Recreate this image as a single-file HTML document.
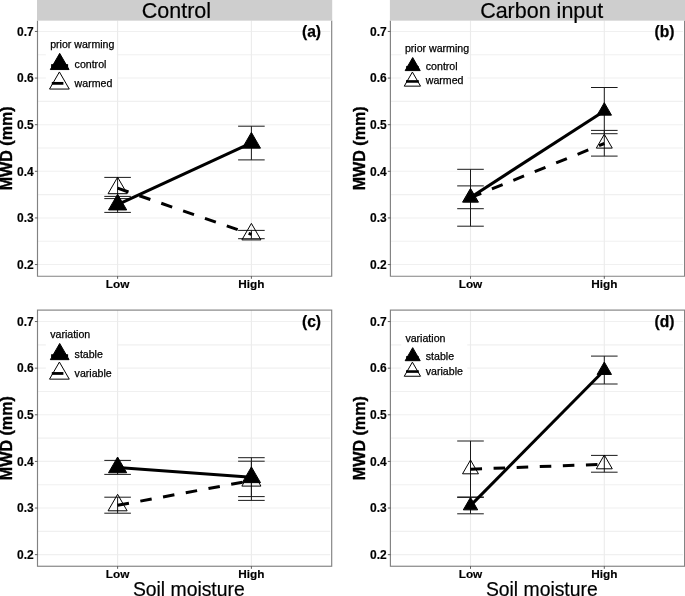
<!DOCTYPE html>
<html lang="en">
<head>
<meta charset="utf-8">
<title>MWD vs soil moisture</title>
<style>
html,body{margin:0;padding:0;background:#fff;}
body{width:685px;height:596px;overflow:hidden;font-family:"Liberation Sans", Arial, Helvetica, sans-serif;}
svg{display:block;filter:grayscale(1);}
</style>
</head>
<body>
<svg width="685" height="596" viewBox="0 0 685 596" font-family='"Liberation Sans", Arial, Helvetica, sans-serif'>
<rect width="685" height="596" fill="#fff"/>
<g id="panel-a">
<rect x="37.5" y="20" width="294.2" height="256.2" fill="#fff"/>
<line x1="37.5" x2="330.2" y1="264.55" y2="264.55" stroke="#f0f0f0" stroke-width="1.1"/>
<line x1="37.5" x2="330.2" y1="241.24" y2="241.24" stroke="#f0f0f0" stroke-width="1.1"/>
<line x1="37.5" x2="330.2" y1="217.93" y2="217.93" stroke="#f0f0f0" stroke-width="1.1"/>
<line x1="37.5" x2="330.2" y1="194.62" y2="194.62" stroke="#f0f0f0" stroke-width="1.1"/>
<line x1="37.5" x2="330.2" y1="171.31" y2="171.31" stroke="#f0f0f0" stroke-width="1.1"/>
<line x1="37.5" x2="330.2" y1="148.00" y2="148.00" stroke="#f0f0f0" stroke-width="1.1"/>
<line x1="37.5" x2="330.2" y1="124.69" y2="124.69" stroke="#f0f0f0" stroke-width="1.1"/>
<line x1="37.5" x2="330.2" y1="101.38" y2="101.38" stroke="#f0f0f0" stroke-width="1.1"/>
<line x1="37.5" x2="330.2" y1="78.07" y2="78.07" stroke="#f0f0f0" stroke-width="1.1"/>
<line x1="37.5" x2="330.2" y1="54.76" y2="54.76" stroke="#f0f0f0" stroke-width="1.1"/>
<line x1="37.5" x2="330.2" y1="31.45" y2="31.45" stroke="#f0f0f0" stroke-width="1.1"/>
<line x1="117.60" x2="117.60" y1="20.5" y2="276.2" stroke="#ebebeb" stroke-width="1.1"/>
<line x1="251.40" x2="251.40" y1="20.5" y2="276.2" stroke="#ebebeb" stroke-width="1.1"/>
<rect x="45.8" y="34.95" width="71" height="62" fill="#fff"/>
<path d="M104.30 177.40H130.90M104.30 198.60H130.90M117.60 177.40V198.60" fill="none" stroke="#1a1a1a" stroke-width="1.0"/>
<path d="M238.10 230.40H264.70M238.10 238.70H264.70M251.40 230.40V238.70" fill="none" stroke="#1a1a1a" stroke-width="1.0"/>
<path d="M104.30 196.40H130.90M104.30 212.40H130.90M117.60 196.40V212.40" fill="none" stroke="#1a1a1a" stroke-width="1.0"/>
<path d="M238.10 126.20H264.70M238.10 159.90H264.70M251.40 126.20V159.90" fill="none" stroke="#1a1a1a" stroke-width="1.0"/>
<line x1="117.60" y1="204.6" x2="251.40" y2="142.8" stroke="#000" stroke-width="3"/>
<line x1="117.60" y1="188.2" x2="251.40" y2="234.4" stroke="#000" stroke-width="3" stroke-dasharray="11.55 11.55"/>
<polygon points="117.60,177.20 127.13,193.70 108.07,193.70" fill="none" stroke="#000" stroke-width="1.0" stroke-linejoin="miter"/>
<polygon points="251.40,223.40 260.93,239.90 241.87,239.90" fill="none" stroke="#000" stroke-width="1.0" stroke-linejoin="miter"/>
<polygon points="117.60,194.20 126.69,209.95 108.51,209.95" fill="#000" stroke="#000" stroke-width="1.0" stroke-linejoin="miter"/>
<polygon points="251.40,132.40 260.49,148.15 242.31,148.15" fill="#000" stroke="#000" stroke-width="1.0" stroke-linejoin="miter"/>
<path d="M37.5 20.5V276.2H331.7V20.5" fill="none" stroke="#828282" stroke-width="1.15"/>
<line x1="34.9" x2="37.5" y1="264.55" y2="264.55" stroke="#444" stroke-width="0.85"/>
<text x="33.8" y="268.85" font-size="12" font-weight="bold" text-anchor="end" fill="#000" stroke="#000" stroke-width="0.15">0.2</text>
<line x1="34.9" x2="37.5" y1="217.93" y2="217.93" stroke="#444" stroke-width="0.85"/>
<text x="33.8" y="222.23" font-size="12" font-weight="bold" text-anchor="end" fill="#000" stroke="#000" stroke-width="0.15">0.3</text>
<line x1="34.9" x2="37.5" y1="171.31" y2="171.31" stroke="#444" stroke-width="0.85"/>
<text x="33.8" y="175.61" font-size="12" font-weight="bold" text-anchor="end" fill="#000" stroke="#000" stroke-width="0.15">0.4</text>
<line x1="34.9" x2="37.5" y1="124.69" y2="124.69" stroke="#444" stroke-width="0.85"/>
<text x="33.8" y="128.99" font-size="12" font-weight="bold" text-anchor="end" fill="#000" stroke="#000" stroke-width="0.15">0.5</text>
<line x1="34.9" x2="37.5" y1="78.07" y2="78.07" stroke="#444" stroke-width="0.85"/>
<text x="33.8" y="82.37" font-size="12" font-weight="bold" text-anchor="end" fill="#000" stroke="#000" stroke-width="0.15">0.6</text>
<line x1="34.9" x2="37.5" y1="31.45" y2="31.45" stroke="#444" stroke-width="0.85"/>
<text x="33.8" y="35.75" font-size="12" font-weight="bold" text-anchor="end" fill="#000" stroke="#000" stroke-width="0.15">0.7</text>
<line x1="117.60" x2="117.60" y1="276.2" y2="278.8" stroke="#444" stroke-width="0.85"/>
<text x="117.60" y="287.90" font-size="11.8" font-weight="bold" text-anchor="middle" fill="#000" stroke="#000" stroke-width="0.15">Low</text>
<line x1="251.40" x2="251.40" y1="276.2" y2="278.8" stroke="#444" stroke-width="0.85"/>
<text x="251.40" y="287.90" font-size="11.8" font-weight="bold" text-anchor="middle" fill="#000" stroke="#000" stroke-width="0.15">High</text>
<text transform="translate(11.60 148.35) rotate(-90) scale(1 1.04)" font-size="16.1" font-weight="bold" text-anchor="middle" fill="#000" stroke="#000" stroke-width="0.35">MWD (mm)</text>
<text x="311.50" y="37.05" font-size="15.6" font-weight="bold" text-anchor="middle" fill="#000" stroke="#000" stroke-width="0.25">(a)</text>
<text x="50.2" y="48.25" font-size="10.6" fill="#000" stroke="#000" stroke-width="0.25">prior warming</text>
<line x1="51.099999999999994" x2="68.1" y1="65.64999999999999" y2="65.64999999999999" stroke="#000" stroke-width="3"/>
<polygon points="59.70,53.35 69.05,69.55 50.35,69.55" fill="#000" stroke="#000" stroke-width="1.0" stroke-linejoin="miter"/>
<line x1="51.8" x2="63.4" y1="83.35" y2="83.35" stroke="#000" stroke-width="2.8"/>
<polygon points="59.40,71.95 69.27,89.05 49.53,89.05" fill="none" stroke="#000" stroke-width="1.0" stroke-linejoin="miter"/>
<text x="74.6" y="68.35" font-size="10.6" fill="#000" stroke="#000" stroke-width="0.25">control</text>
<text x="74.6" y="87.35" font-size="10.6" fill="#000" stroke="#000" stroke-width="0.25">warmed</text>
</g>
<g id="panel-b">
<rect x="390.4" y="20" width="294.2" height="256.2" fill="#fff"/>
<line x1="390.4" x2="683.0999999999999" y1="264.55" y2="264.55" stroke="#f0f0f0" stroke-width="1.1"/>
<line x1="390.4" x2="683.0999999999999" y1="241.24" y2="241.24" stroke="#f0f0f0" stroke-width="1.1"/>
<line x1="390.4" x2="683.0999999999999" y1="217.93" y2="217.93" stroke="#f0f0f0" stroke-width="1.1"/>
<line x1="390.4" x2="683.0999999999999" y1="194.62" y2="194.62" stroke="#f0f0f0" stroke-width="1.1"/>
<line x1="390.4" x2="683.0999999999999" y1="171.31" y2="171.31" stroke="#f0f0f0" stroke-width="1.1"/>
<line x1="390.4" x2="683.0999999999999" y1="148.00" y2="148.00" stroke="#f0f0f0" stroke-width="1.1"/>
<line x1="390.4" x2="683.0999999999999" y1="124.69" y2="124.69" stroke="#f0f0f0" stroke-width="1.1"/>
<line x1="390.4" x2="683.0999999999999" y1="101.38" y2="101.38" stroke="#f0f0f0" stroke-width="1.1"/>
<line x1="390.4" x2="683.0999999999999" y1="78.07" y2="78.07" stroke="#f0f0f0" stroke-width="1.1"/>
<line x1="390.4" x2="683.0999999999999" y1="54.76" y2="54.76" stroke="#f0f0f0" stroke-width="1.1"/>
<line x1="390.4" x2="683.0999999999999" y1="31.45" y2="31.45" stroke="#f0f0f0" stroke-width="1.1"/>
<line x1="470.50" x2="470.50" y1="20.5" y2="276.2" stroke="#ebebeb" stroke-width="1.1"/>
<line x1="604.30" x2="604.30" y1="20.5" y2="276.2" stroke="#ebebeb" stroke-width="1.1"/>
<rect x="401.29999999999995" y="40.45" width="66" height="50" fill="#fff"/>
<path d="M457.20 169.30H483.80M457.20 226.20H483.80M470.50 169.30V226.20" fill="none" stroke="#1a1a1a" stroke-width="1.0"/>
<path d="M591.00 130.40H617.60M591.00 156.10H617.60M604.30 130.40V156.10" fill="none" stroke="#1a1a1a" stroke-width="1.0"/>
<path d="M457.20 185.90H483.80M457.20 208.70H483.80M470.50 185.90V208.70" fill="none" stroke="#1a1a1a" stroke-width="1.0"/>
<path d="M591.00 87.50H617.60M591.00 133.70H617.60M604.30 87.50V133.70" fill="none" stroke="#1a1a1a" stroke-width="1.0"/>
<line x1="470.50" y1="197.4" x2="604.30" y2="110.9" stroke="#000" stroke-width="3"/>
<line x1="470.50" y1="197.6" x2="604.30" y2="143.5" stroke="#000" stroke-width="3" stroke-dasharray="11.55 11.55"/>
<polygon points="470.50,188.40 478.47,202.20 462.53,202.20" fill="none" stroke="#000" stroke-width="1.0" stroke-linejoin="miter"/>
<polygon points="604.30,134.30 612.27,148.10 596.33,148.10" fill="none" stroke="#000" stroke-width="1.0" stroke-linejoin="miter"/>
<polygon points="470.50,189.20 477.69,201.65 463.31,201.65" fill="#000" stroke="#000" stroke-width="1.0" stroke-linejoin="miter"/>
<polygon points="604.30,102.70 611.49,115.15 597.11,115.15" fill="#000" stroke="#000" stroke-width="1.0" stroke-linejoin="miter"/>
<path d="M390.4 20.5V276.2H684.5999999999999V20.5" fill="none" stroke="#828282" stroke-width="1.15"/>
<line x1="387.79999999999995" x2="390.4" y1="264.55" y2="264.55" stroke="#444" stroke-width="0.85"/>
<text x="386.7" y="268.85" font-size="12" font-weight="bold" text-anchor="end" fill="#000" stroke="#000" stroke-width="0.15">0.2</text>
<line x1="387.79999999999995" x2="390.4" y1="217.93" y2="217.93" stroke="#444" stroke-width="0.85"/>
<text x="386.7" y="222.23" font-size="12" font-weight="bold" text-anchor="end" fill="#000" stroke="#000" stroke-width="0.15">0.3</text>
<line x1="387.79999999999995" x2="390.4" y1="171.31" y2="171.31" stroke="#444" stroke-width="0.85"/>
<text x="386.7" y="175.61" font-size="12" font-weight="bold" text-anchor="end" fill="#000" stroke="#000" stroke-width="0.15">0.4</text>
<line x1="387.79999999999995" x2="390.4" y1="124.69" y2="124.69" stroke="#444" stroke-width="0.85"/>
<text x="386.7" y="128.99" font-size="12" font-weight="bold" text-anchor="end" fill="#000" stroke="#000" stroke-width="0.15">0.5</text>
<line x1="387.79999999999995" x2="390.4" y1="78.07" y2="78.07" stroke="#444" stroke-width="0.85"/>
<text x="386.7" y="82.37" font-size="12" font-weight="bold" text-anchor="end" fill="#000" stroke="#000" stroke-width="0.15">0.6</text>
<line x1="387.79999999999995" x2="390.4" y1="31.45" y2="31.45" stroke="#444" stroke-width="0.85"/>
<text x="386.7" y="35.75" font-size="12" font-weight="bold" text-anchor="end" fill="#000" stroke="#000" stroke-width="0.15">0.7</text>
<line x1="470.50" x2="470.50" y1="276.2" y2="278.8" stroke="#444" stroke-width="0.85"/>
<text x="470.50" y="287.90" font-size="11.8" font-weight="bold" text-anchor="middle" fill="#000" stroke="#000" stroke-width="0.15">Low</text>
<line x1="604.30" x2="604.30" y1="276.2" y2="278.8" stroke="#444" stroke-width="0.85"/>
<text x="604.30" y="287.90" font-size="11.8" font-weight="bold" text-anchor="middle" fill="#000" stroke="#000" stroke-width="0.15">High</text>
<text transform="translate(364.50 148.35) rotate(-90) scale(1 1.04)" font-size="16.1" font-weight="bold" text-anchor="middle" fill="#000" stroke="#000" stroke-width="0.35">MWD (mm)</text>
<text x="664.40" y="37.05" font-size="15.6" font-weight="bold" text-anchor="middle" fill="#000" stroke="#000" stroke-width="0.25">(b)</text>
<text x="404.9" y="51.55" font-size="10.6" fill="#000" stroke="#000" stroke-width="0.25">prior warming</text>
<line x1="406.2" x2="418.59999999999997" y1="67.35000000000001" y2="67.35000000000001" stroke="#000" stroke-width="2.8"/>
<polygon points="412.70,57.55 420.23,70.60 405.17,70.60" fill="#000" stroke="#000" stroke-width="1.0" stroke-linejoin="miter"/>
<line x1="406.0" x2="418.79999999999995" y1="81.45" y2="81.45" stroke="#000" stroke-width="2.6"/>
<polygon points="412.40,72.05 420.54,86.15 404.26,86.15" fill="none" stroke="#000" stroke-width="1.0" stroke-linejoin="miter"/>
<text x="425.79999999999995" y="69.85" font-size="10.6" fill="#000" stroke="#000" stroke-width="0.25">control</text>
<text x="425.79999999999995" y="84.45" font-size="10.6" fill="#000" stroke="#000" stroke-width="0.25">warmed</text>
</g>
<g id="panel-c">
<rect x="37.5" y="310" width="294.2" height="256.25" fill="#fff"/>
<line x1="37.5" x2="330.2" y1="554.65" y2="554.65" stroke="#f0f0f0" stroke-width="1.1"/>
<line x1="37.5" x2="330.2" y1="531.34" y2="531.34" stroke="#f0f0f0" stroke-width="1.1"/>
<line x1="37.5" x2="330.2" y1="508.03" y2="508.03" stroke="#f0f0f0" stroke-width="1.1"/>
<line x1="37.5" x2="330.2" y1="484.72" y2="484.72" stroke="#f0f0f0" stroke-width="1.1"/>
<line x1="37.5" x2="330.2" y1="461.41" y2="461.41" stroke="#f0f0f0" stroke-width="1.1"/>
<line x1="37.5" x2="330.2" y1="438.10" y2="438.10" stroke="#f0f0f0" stroke-width="1.1"/>
<line x1="37.5" x2="330.2" y1="414.79" y2="414.79" stroke="#f0f0f0" stroke-width="1.1"/>
<line x1="37.5" x2="330.2" y1="391.48" y2="391.48" stroke="#f0f0f0" stroke-width="1.1"/>
<line x1="37.5" x2="330.2" y1="368.17" y2="368.17" stroke="#f0f0f0" stroke-width="1.1"/>
<line x1="37.5" x2="330.2" y1="344.86" y2="344.86" stroke="#f0f0f0" stroke-width="1.1"/>
<line x1="37.5" x2="330.2" y1="321.55" y2="321.55" stroke="#f0f0f0" stroke-width="1.1"/>
<line x1="117.60" x2="117.60" y1="310.1" y2="566.25" stroke="#ebebeb" stroke-width="1.1"/>
<line x1="251.40" x2="251.40" y1="310.1" y2="566.25" stroke="#ebebeb" stroke-width="1.1"/>
<rect x="45.8" y="325.05" width="71" height="62" fill="#fff"/>
<path d="M104.30 497.20H130.90M104.30 513.20H130.90M117.60 497.20V513.20" fill="none" stroke="#1a1a1a" stroke-width="1.0"/>
<path d="M238.10 461.20H264.70M238.10 500.40H264.70M251.40 461.20V500.40" fill="none" stroke="#1a1a1a" stroke-width="1.0"/>
<path d="M104.30 460.40H130.90M104.30 474.40H130.90M117.60 460.40V474.40" fill="none" stroke="#1a1a1a" stroke-width="1.0"/>
<path d="M238.10 457.70H264.70M238.10 496.60H264.70M251.40 457.70V496.60" fill="none" stroke="#1a1a1a" stroke-width="1.0"/>
<line x1="117.60" y1="467.4" x2="251.40" y2="477.3" stroke="#000" stroke-width="3"/>
<line x1="117.60" y1="505.3" x2="251.40" y2="480.6" stroke="#000" stroke-width="3" stroke-dasharray="11.55 11.55"/>
<polygon points="117.60,494.30 127.13,510.80 108.07,510.80" fill="none" stroke="#000" stroke-width="1.0" stroke-linejoin="miter"/>
<polygon points="251.40,469.60 260.93,486.10 241.87,486.10" fill="none" stroke="#000" stroke-width="1.0" stroke-linejoin="miter"/>
<polygon points="117.60,457.00 126.69,472.75 108.51,472.75" fill="#000" stroke="#000" stroke-width="1.0" stroke-linejoin="miter"/>
<polygon points="251.40,466.90 260.49,482.65 242.31,482.65" fill="#000" stroke="#000" stroke-width="1.0" stroke-linejoin="miter"/>
<rect x="37.5" y="310.1" width="294.2" height="256.15" fill="none" stroke="#828282" stroke-width="1.15"/>
<line x1="34.9" x2="37.5" y1="554.65" y2="554.65" stroke="#444" stroke-width="0.85"/>
<text x="33.8" y="558.95" font-size="12" font-weight="bold" text-anchor="end" fill="#000" stroke="#000" stroke-width="0.15">0.2</text>
<line x1="34.9" x2="37.5" y1="508.03" y2="508.03" stroke="#444" stroke-width="0.85"/>
<text x="33.8" y="512.33" font-size="12" font-weight="bold" text-anchor="end" fill="#000" stroke="#000" stroke-width="0.15">0.3</text>
<line x1="34.9" x2="37.5" y1="461.41" y2="461.41" stroke="#444" stroke-width="0.85"/>
<text x="33.8" y="465.71" font-size="12" font-weight="bold" text-anchor="end" fill="#000" stroke="#000" stroke-width="0.15">0.4</text>
<line x1="34.9" x2="37.5" y1="414.79" y2="414.79" stroke="#444" stroke-width="0.85"/>
<text x="33.8" y="419.09" font-size="12" font-weight="bold" text-anchor="end" fill="#000" stroke="#000" stroke-width="0.15">0.5</text>
<line x1="34.9" x2="37.5" y1="368.17" y2="368.17" stroke="#444" stroke-width="0.85"/>
<text x="33.8" y="372.47" font-size="12" font-weight="bold" text-anchor="end" fill="#000" stroke="#000" stroke-width="0.15">0.6</text>
<line x1="34.9" x2="37.5" y1="321.55" y2="321.55" stroke="#444" stroke-width="0.85"/>
<text x="33.8" y="325.85" font-size="12" font-weight="bold" text-anchor="end" fill="#000" stroke="#000" stroke-width="0.15">0.7</text>
<line x1="117.60" x2="117.60" y1="566.25" y2="568.85" stroke="#444" stroke-width="0.85"/>
<text x="117.60" y="577.95" font-size="11.8" font-weight="bold" text-anchor="middle" fill="#000" stroke="#000" stroke-width="0.15">Low</text>
<line x1="251.40" x2="251.40" y1="566.25" y2="568.85" stroke="#444" stroke-width="0.85"/>
<text x="251.40" y="577.95" font-size="11.8" font-weight="bold" text-anchor="middle" fill="#000" stroke="#000" stroke-width="0.15">High</text>
<text transform="translate(11.60 438.18) rotate(-90) scale(1 1.04)" font-size="16.1" font-weight="bold" text-anchor="middle" fill="#000" stroke="#000" stroke-width="0.35">MWD (mm)</text>
<text x="311.50" y="327.15" font-size="15.6" font-weight="bold" text-anchor="middle" fill="#000" stroke="#000" stroke-width="0.25">(c)</text>
<text x="50.2" y="338.35" font-size="10.6" fill="#000" stroke="#000" stroke-width="0.25">variation</text>
<line x1="51.099999999999994" x2="68.1" y1="355.75" y2="355.75" stroke="#000" stroke-width="3"/>
<polygon points="59.70,343.45 69.05,359.65 50.35,359.65" fill="#000" stroke="#000" stroke-width="1.0" stroke-linejoin="miter"/>
<line x1="51.8" x2="63.4" y1="373.45" y2="373.45" stroke="#000" stroke-width="2.8"/>
<polygon points="59.40,362.05 69.27,379.15 49.53,379.15" fill="none" stroke="#000" stroke-width="1.0" stroke-linejoin="miter"/>
<text x="74.6" y="358.45" font-size="10.6" fill="#000" stroke="#000" stroke-width="0.25">stable</text>
<text x="74.6" y="377.45" font-size="10.6" fill="#000" stroke="#000" stroke-width="0.25">variable</text>
</g>
<g id="panel-d">
<rect x="390.4" y="310" width="294.2" height="256.25" fill="#fff"/>
<line x1="390.4" x2="683.0999999999999" y1="554.65" y2="554.65" stroke="#f0f0f0" stroke-width="1.1"/>
<line x1="390.4" x2="683.0999999999999" y1="531.34" y2="531.34" stroke="#f0f0f0" stroke-width="1.1"/>
<line x1="390.4" x2="683.0999999999999" y1="508.03" y2="508.03" stroke="#f0f0f0" stroke-width="1.1"/>
<line x1="390.4" x2="683.0999999999999" y1="484.72" y2="484.72" stroke="#f0f0f0" stroke-width="1.1"/>
<line x1="390.4" x2="683.0999999999999" y1="461.41" y2="461.41" stroke="#f0f0f0" stroke-width="1.1"/>
<line x1="390.4" x2="683.0999999999999" y1="438.10" y2="438.10" stroke="#f0f0f0" stroke-width="1.1"/>
<line x1="390.4" x2="683.0999999999999" y1="414.79" y2="414.79" stroke="#f0f0f0" stroke-width="1.1"/>
<line x1="390.4" x2="683.0999999999999" y1="391.48" y2="391.48" stroke="#f0f0f0" stroke-width="1.1"/>
<line x1="390.4" x2="683.0999999999999" y1="368.17" y2="368.17" stroke="#f0f0f0" stroke-width="1.1"/>
<line x1="390.4" x2="683.0999999999999" y1="344.86" y2="344.86" stroke="#f0f0f0" stroke-width="1.1"/>
<line x1="390.4" x2="683.0999999999999" y1="321.55" y2="321.55" stroke="#f0f0f0" stroke-width="1.1"/>
<line x1="470.50" x2="470.50" y1="310.1" y2="566.25" stroke="#ebebeb" stroke-width="1.1"/>
<line x1="604.30" x2="604.30" y1="310.1" y2="566.25" stroke="#ebebeb" stroke-width="1.1"/>
<rect x="401.29999999999995" y="330.55" width="66" height="50" fill="#fff"/>
<path d="M457.20 441.00H483.80M457.20 497.40H483.80M470.50 441.00V497.40" fill="none" stroke="#1a1a1a" stroke-width="1.0"/>
<path d="M591.00 455.40H617.60M591.00 472.20H617.60M604.30 455.40V472.20" fill="none" stroke="#1a1a1a" stroke-width="1.0"/>
<path d="M457.20 497.00H483.80M457.20 513.80H483.80M470.50 497.00V513.80" fill="none" stroke="#1a1a1a" stroke-width="1.0"/>
<path d="M591.00 356.10H617.60M591.00 384.00H617.60M604.30 356.10V384.00" fill="none" stroke="#1a1a1a" stroke-width="1.0"/>
<line x1="470.50" y1="505.6" x2="604.30" y2="370.2" stroke="#000" stroke-width="3"/>
<line x1="470.50" y1="469.2" x2="604.30" y2="464.2" stroke="#000" stroke-width="3" stroke-dasharray="11.55 11.55"/>
<polygon points="470.50,460.00 478.47,473.80 462.53,473.80" fill="none" stroke="#000" stroke-width="1.0" stroke-linejoin="miter"/>
<polygon points="604.30,455.00 612.27,468.80 596.33,468.80" fill="none" stroke="#000" stroke-width="1.0" stroke-linejoin="miter"/>
<polygon points="470.50,497.40 477.69,509.85 463.31,509.85" fill="#000" stroke="#000" stroke-width="1.0" stroke-linejoin="miter"/>
<polygon points="604.30,362.00 611.49,374.45 597.11,374.45" fill="#000" stroke="#000" stroke-width="1.0" stroke-linejoin="miter"/>
<rect x="390.4" y="310.1" width="294.2" height="256.15" fill="none" stroke="#828282" stroke-width="1.15"/>
<line x1="387.79999999999995" x2="390.4" y1="554.65" y2="554.65" stroke="#444" stroke-width="0.85"/>
<text x="386.7" y="558.95" font-size="12" font-weight="bold" text-anchor="end" fill="#000" stroke="#000" stroke-width="0.15">0.2</text>
<line x1="387.79999999999995" x2="390.4" y1="508.03" y2="508.03" stroke="#444" stroke-width="0.85"/>
<text x="386.7" y="512.33" font-size="12" font-weight="bold" text-anchor="end" fill="#000" stroke="#000" stroke-width="0.15">0.3</text>
<line x1="387.79999999999995" x2="390.4" y1="461.41" y2="461.41" stroke="#444" stroke-width="0.85"/>
<text x="386.7" y="465.71" font-size="12" font-weight="bold" text-anchor="end" fill="#000" stroke="#000" stroke-width="0.15">0.4</text>
<line x1="387.79999999999995" x2="390.4" y1="414.79" y2="414.79" stroke="#444" stroke-width="0.85"/>
<text x="386.7" y="419.09" font-size="12" font-weight="bold" text-anchor="end" fill="#000" stroke="#000" stroke-width="0.15">0.5</text>
<line x1="387.79999999999995" x2="390.4" y1="368.17" y2="368.17" stroke="#444" stroke-width="0.85"/>
<text x="386.7" y="372.47" font-size="12" font-weight="bold" text-anchor="end" fill="#000" stroke="#000" stroke-width="0.15">0.6</text>
<line x1="387.79999999999995" x2="390.4" y1="321.55" y2="321.55" stroke="#444" stroke-width="0.85"/>
<text x="386.7" y="325.85" font-size="12" font-weight="bold" text-anchor="end" fill="#000" stroke="#000" stroke-width="0.15">0.7</text>
<line x1="470.50" x2="470.50" y1="566.25" y2="568.85" stroke="#444" stroke-width="0.85"/>
<text x="470.50" y="577.95" font-size="11.8" font-weight="bold" text-anchor="middle" fill="#000" stroke="#000" stroke-width="0.15">Low</text>
<line x1="604.30" x2="604.30" y1="566.25" y2="568.85" stroke="#444" stroke-width="0.85"/>
<text x="604.30" y="577.95" font-size="11.8" font-weight="bold" text-anchor="middle" fill="#000" stroke="#000" stroke-width="0.15">High</text>
<text transform="translate(364.50 438.18) rotate(-90) scale(1 1.04)" font-size="16.1" font-weight="bold" text-anchor="middle" fill="#000" stroke="#000" stroke-width="0.35">MWD (mm)</text>
<text x="664.40" y="327.15" font-size="15.6" font-weight="bold" text-anchor="middle" fill="#000" stroke="#000" stroke-width="0.25">(d)</text>
<text x="405.4" y="341.65" font-size="10.6" fill="#000" stroke="#000" stroke-width="0.25">variation</text>
<line x1="406.2" x2="418.59999999999997" y1="357.45" y2="357.45" stroke="#000" stroke-width="2.8"/>
<polygon points="412.70,347.65 420.23,360.70 405.17,360.70" fill="#000" stroke="#000" stroke-width="1.0" stroke-linejoin="miter"/>
<line x1="406.0" x2="418.79999999999995" y1="371.55" y2="371.55" stroke="#000" stroke-width="2.6"/>
<polygon points="412.40,362.15 420.54,376.25 404.26,376.25" fill="none" stroke="#000" stroke-width="1.0" stroke-linejoin="miter"/>
<text x="425.79999999999995" y="359.95" font-size="10.6" fill="#000" stroke="#000" stroke-width="0.25">stable</text>
<text x="425.79999999999995" y="374.55" font-size="10.6" fill="#000" stroke="#000" stroke-width="0.25">variable</text>
</g>
<rect x="37" y="0" width="295.2" height="20.65" fill="#cecece"/>
<rect x="389.9" y="0" width="295.1" height="20.65" fill="#cecece"/>
<text x="176.4" y="17.7" font-size="21.5" text-anchor="middle" fill="#000" stroke="#000" stroke-width="0.2">Control</text>
<text x="541.7" y="17.7" font-size="21.5" text-anchor="middle" fill="#000" stroke="#000" stroke-width="0.2">Carbon input</text>
<text x="188.8" y="595.9" font-size="19.35" text-anchor="middle" fill="#000" stroke="#000" stroke-width="0.2">Soil moisture</text>
<text x="541.8" y="595.9" font-size="19.35" text-anchor="middle" fill="#000" stroke="#000" stroke-width="0.2">Soil moisture</text>
</svg>
</body>
</html>
